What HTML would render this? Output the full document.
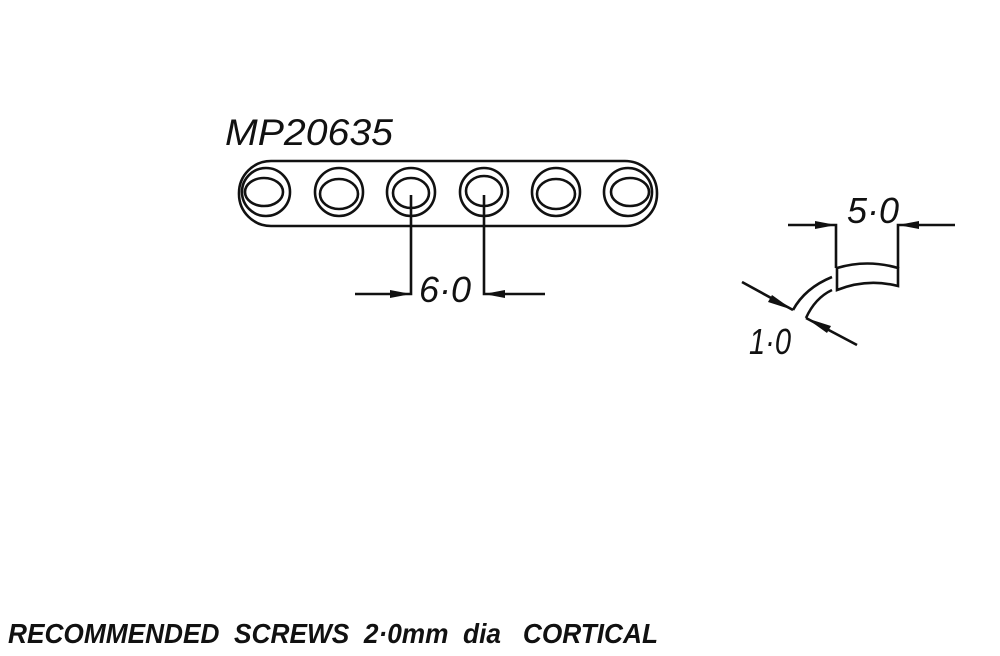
<!DOCTYPE html>
<html><head><style>html,body{margin:0;padding:0;background:#fff;}svg{display:block}</style></head>
<body>
<svg width="1000" height="656" viewBox="0 0 1000 656" xmlns="http://www.w3.org/2000/svg">
<g fill="none" stroke="#111" stroke-width="2.6">
<rect x="239" y="161" width="418" height="65" rx="32" ry="32"/>
<g>
<ellipse cx="266" cy="192" rx="24" ry="24"/><ellipse cx="264" cy="192" rx="19" ry="14"/>
<ellipse cx="339" cy="192" rx="24" ry="24"/><ellipse cx="339" cy="194" rx="19" ry="15"/>
<ellipse cx="411" cy="192" rx="24" ry="24"/><ellipse cx="411" cy="193" rx="18" ry="15"/>
<ellipse cx="484" cy="192" rx="24" ry="24"/><ellipse cx="484" cy="191" rx="18" ry="15"/>
<ellipse cx="556" cy="192" rx="24" ry="24"/><ellipse cx="556" cy="194" rx="19" ry="15"/>
<ellipse cx="628" cy="192" rx="24" ry="24"/><ellipse cx="630" cy="192" rx="19" ry="14"/>
</g>
<polyline points="411,195 411,294 355,294"/>
<polyline points="484,195 484,294 545,294"/>
<polyline points="788,225 836,225 836,268"/>
<polyline points="955,225 898,225 898,268"/>
<path d="M837,268 Q867,259 898,268 L898,286 Q867,278 837,290 Z"/>
<path d="M832,277 Q805,288 793,310"/>
<path d="M832,290 Q815,298 806,318"/>
<line x1="742" y1="282" x2="793" y2="310"/>
<line x1="857" y1="345" x2="806" y2="318"/>
</g>
<g fill="#111">
<polygon points="411,294 390,290 390,298"/>
<polygon points="484,294 505,290 505,298"/>
<polygon points="836,225 815,221 815,229"/>
<polygon points="898,225 919,221 919,229"/>
<polygon points="793,310 772,295 768,302"/>
<polygon points="806,318 827,333 831,326"/>
</g>
<g font-family="Liberation Sans, sans-serif" font-style="italic" fill="#111">
<text x="225" y="145" font-size="37" textLength="168" lengthAdjust="spacingAndGlyphs">MP20635</text>
<text x="419" y="302" font-size="36" textLength="52" lengthAdjust="spacingAndGlyphs">6·0</text>
<text x="847" y="223" font-size="36" textLength="52" lengthAdjust="spacingAndGlyphs">5·0</text>
<text x="749" y="354" font-size="36" textLength="42" lengthAdjust="spacingAndGlyphs">1·0</text>
<text x="8" y="643" font-size="28" font-weight="bold" textLength="650" lengthAdjust="spacingAndGlyphs" xml:space="preserve">RECOMMENDED  SCREWS  2·0mm  dia   CORTICAL</text>
</g>
</svg>
</body></html>
